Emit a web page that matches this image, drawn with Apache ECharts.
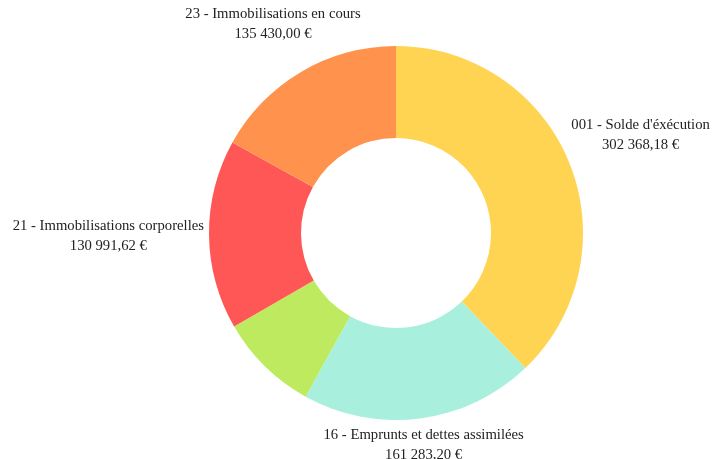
<!DOCTYPE html>
<html><head><meta charset="utf-8">
<script src="https://cdn.jsdelivr.net/npm/echarts@6/dist/echarts.min.js"></script>
<style>html,body{margin:0;padding:0;background:#fff}#c{width:723px;height:459px}</style>
</head><body><div id="c"></div>
<script>
const categories = ["001 - Solde d'éxécution", "16 - Emprunts et dettes assimilées", "", "21 - Immobilisations corporelles", "23 - Immobilisations en cours"];
const values = [302368.18, 161283.20, 68900, 130991.62, 135430.00];
const colors = ['#FFD452', '#A8F0DD', '#BEEA5F', '#FF5656', '#FF934D'];
const showLabel = [true, true, false, true, true];

const CX = 396, CY = 233, R0 = 95, R1 = 187, GAP = 5;
function fmt(v){
  const parts = v.toFixed(2).split('.');
  parts[0] = parts[0].replace(/\B(?=(\d{3})+(?!\d))/g, ' ');
  return parts[0] + ',' + parts[1] + ' €';
}
const total = values.reduce((a,b)=>a+b,0);
const midAngles = [];
let acc = 0;
values.forEach(v => { midAngles.push((acc + v/2)/total*2*Math.PI); acc += v; });

const chart = echarts.init(document.getElementById('c'));
chart.setOption({
  animation: false,
  series: [{
    type: 'pie',
    center: [CX, CY],
    radius: [R0, R1],
    startAngle: 90,
    clockwise: true,
    avoidLabelOverlap: false,
    label: {
      show: true,
      position: 'outside',
      fontFamily: 'Liberation Serif',
      fontSize: 14.7,
      lineHeight: 20,
      color: '#222',
      formatter: p => p.name + '\n' + fmt(p.value)
    },
    labelLine: { show: false },
    emphasis: { disabled: true },
    labelLayout: function(params){
      const i = params.dataIndex;
      const a = midAngles[i];
      const ux = Math.sin(a), uy = -Math.cos(a);
      const hw = params.labelRect.width/2, hh = params.labelRect.height/2;
      let lo = 0, hi = 600;
      for (let k=0;k<60;k++){
        const d = (lo+hi)/2;
        const px = Math.max(Math.abs(d*ux)-hw,0), py = Math.max(Math.abs(d*uy)-hh,0);
        if (Math.sqrt(px*px+py*py) >= R1+GAP) hi = d; else lo = d;
      }
      return { x: CX + hi*ux, y: CY + hi*uy, align: 'center', verticalAlign: 'middle' };
    },
    data: values.map((v,i)=>({
      name: categories[i], value: v,
      itemStyle: { color: colors[i] },
      label: { show: showLabel[i] }
    }))
  }]
});
</script></body></html>
